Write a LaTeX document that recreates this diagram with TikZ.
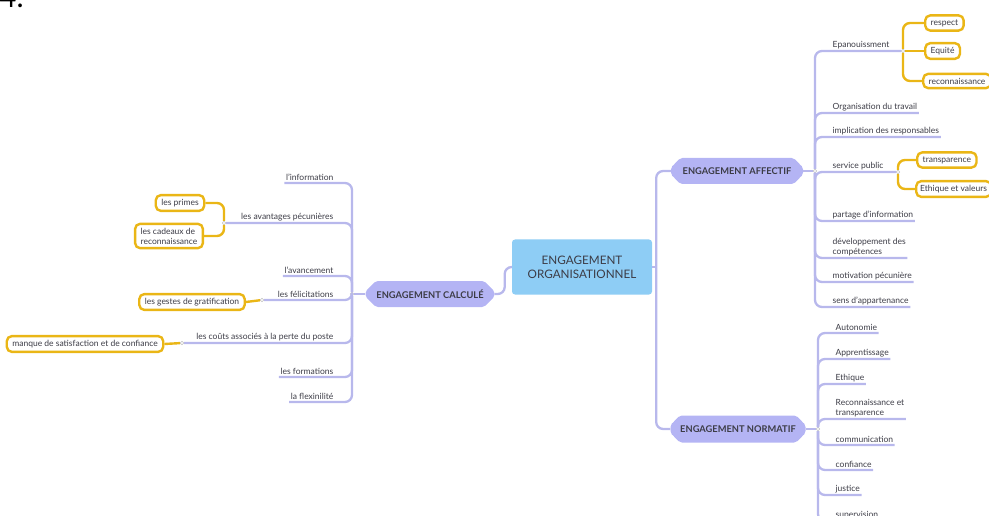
\documentclass[tikz,border=0pt]{standalone}
\usepackage{fontspec}
\setmainfont{Lato}
\usetikzlibrary{shapes.misc}
\definecolor{lav}{RGB}{184,184,236}
\definecolor{lavfill}{RGB}{180,180,244}
\definecolor{sky}{RGB}{142,205,245}
\definecolor{gold}{RGB}{234,182,22}
\definecolor{ink}{RGB}{60,60,70}
\tikzset{
  item/.style={inner xsep=1.5pt, inner ysep=2pt, text=ink, font=\fontsize{8.5}{10}\selectfont, align=left},
  topic/.style={chamfered rectangle, chamfered rectangle xsep=6pt, chamfered rectangle ysep=6pt, fill=lavfill, rounded corners=2pt, inner sep=0pt, minimum height=26pt, text=ink, font=\fontsize{9.3}{11}\selectfont\bfseries},
  leaf/.style={draw=gold, line width=2.4pt, fill=white, rounded corners=5pt, inner xsep=5.5pt, inner ysep=4pt, text=ink, font=\fontsize{8.5}{10}\selectfont, align=left},
  branch/.style={draw=lav, line width=2.3pt, rounded corners=7pt},
  twig/.style={draw=gold, line width=2.4pt, rounded corners=7pt},
  dot/.style={circle, fill=white, draw=gray!50, line width=0.5pt, minimum size=3.5pt, inner sep=0pt}
}
\begin{document}
\begin{tikzpicture}[x=1pt, y=-1pt]
  \useasboundingbox (0,0) rectangle (989,516);
  \node[anchor=base west, inner sep=0pt, font=\fontsize{30}{30}\selectfont] (num) at (-1,8) {4.};

  \node[fill=sky, rounded corners=3pt, minimum width=140pt, minimum height=55pt, text=ink, font=\fontsize{11.7}{14}\selectfont, align=center] (eo) at (582,267) {ENGAGEMENT\\ORGANISATIONNEL};
  \node[topic, minimum width=129pt] (calc) at (430,294) {ENGAGEMENT CALCULÉ};
  \node[topic, minimum width=132pt] (aff) at (737,171) {ENGAGEMENT AFFECTIF};
  \node[topic, minimum width=135pt, minimum height=27pt] (norm) at (738,429) {ENGAGEMENT NORMATIF};

  \node[dot] (lj) at (352,294) {};
  \node[dot] (ra) at (815,171) {};
  \node[dot] (rb) at (818,429) {};

  \draw[branch] (calc.east) -- ++(10,0) |- (eo.west);
  \draw[branch] (calc.west) -- (lj);
  \draw[branch, rounded corners=0pt] (eo.east) -- ++(4,0);
  \draw[branch] (aff.west) -| ([xshift=4pt]eo.east) |- (norm.west);
  \draw[branch] (aff.east) -- (ra);
  \draw[branch] (norm.east) -- (rb);

  \node[item, anchor=south east] (info) at (335,183) {l'information};
  \draw[branch] (info.south west) -- (info.south west -| lj) -- (lj);
  \node[item, anchor=south east] (avant) at (335,223) {les avantages pécunières};
  \node[dot] (avj) at (224,223) {};
  \draw[branch] (avj) -- (avj -| lj) -- (lj);
  \node[leaf] (primes) at (180,203) {les primes};
  \node[leaf] (cadeaux) at (169,236) {les cadeaux de\\reconnaissance};
  \draw[twig] (avj) |- (primes.east);
  \draw[twig] (avj) |- (cadeaux.east);
  \node[item, anchor=south east] (avanc) at (335,276) {l'avancement};
  \draw[branch] (avanc.south west) -- (avanc.south west -| lj) -- (lj);
  \node[item, anchor=south east] (felic) at (335,300) {les félicitations};
  \node[dot] (felj) at (262,300) {};
  \draw[branch] (felj) -- (felj -| lj) -- (lj);
  \node[leaf] (gestes) at (192,302) {les gestes de gratification};
  \draw[twig] (felj) -- (gestes.east);
  \node[item, anchor=south east] (couts) at (335,343) {les coûts associés à la perte du poste};
  \node[dot] (coutj) at (182,343) {};
  \draw[branch] (coutj) -- (coutj -| lj) -- (lj);
  \node[leaf] (manque) at (85,344) {manque de satisfaction et de confiance};
  \draw[twig] (coutj) -- (manque.east);
  \node[item, anchor=south east] (form) at (335,377) {les formations};
  \draw[branch] (form.south west) -- (form.south west -| lj) -- (lj);
  \node[item, anchor=south east] (flex) at (335,402) {la flexinilité};
  \draw[branch] (flex.south west) -- (flex.south west -| lj) -- (lj);

  \node[item, anchor=south west] (epan) at (831,51) {Epanouissment};
  \node[dot] (epj) at (903,51) {};
  \draw[branch] (ra) |- (epan.south west) -- (epj);
  \node[leaf, anchor=west] (respect) at (924,23) {respect};
  \node[leaf, anchor=west] (equite) at (924,51) {Equité};
  \node[leaf, anchor=west] (recon) at (922,81) {reconnaissance};
  \draw[twig] (epj) |- (respect.west);
  \draw[twig] (epj) -- (equite.west);
  \draw[twig] (epj) |- (recon.west);
  \node[item, anchor=south west] (orga) at (831,113) {Organisation du travail};
  \draw[branch] (ra) |- (orga.south west) -- (orga.south east);
  \node[item, anchor=south west] (impl) at (831,137) {implication des responsables};
  \draw[branch] (ra) |- (impl.south west) -- (impl.south east);
  \node[item, anchor=south west] (serv) at (831,172) {service public};
  \node[dot] (servj) at (898,172) {};
  \draw[branch] (ra) |- (serv.south west) -- (servj);
  \node[leaf, anchor=west] (transp) at (916,160) {transparence};
  \node[leaf, anchor=west, inner xsep=4pt] (ethv) at (915,189) {Ethique et valeurs};
  \draw[twig] (servj) |- (transp.west);
  \draw[twig] (servj) |- (ethv.west);
  \node[item, anchor=south west] (part) at (831,221) {partage d'information};
  \draw[branch] (ra) |- (part.south west) -- (part.south east);
  \node[item, anchor=south west] (dev) at (831,258) {développement des\\compétences};
  \draw[branch] (ra) |- (dev.south west) -- (dev.south east);
  \node[item, anchor=south west] (motiv) at (831,282) {motivation pécunière};
  \draw[branch] (ra) |- (motiv.south west) -- (motiv.south east);
  \node[item, anchor=south west] (sens) at (831,307) {sens d'appartenance};
  \draw[branch] (ra) |- (sens.south west) -- (sens.south east);

  \node[item, anchor=south west] (auto) at (834,333) {Autonomie};
  \draw[branch] (rb) |- (auto.south west) -- (auto.south east);
  \node[item, anchor=south west] (appr) at (834,359) {Apprentissage};
  \draw[branch] (rb) |- (appr.south west) -- (appr.south east);
  \node[item, anchor=south west] (ethi) at (834,384) {Ethique};
  \draw[branch] (rb) |- (ethi.south west) -- (ethi.south east);
  \node[item, anchor=south west] (rect) at (834,419) {Reconnaissance et\\transparence};
  \draw[branch] (rb) |- (rect.south west) -- (rect.south east);
  \node[item, anchor=south west] (comm) at (834,445) {communication};
  \draw[branch] (rb) |- (comm.south west) -- (comm.south east);
  \node[item, anchor=south west] (conf) at (834,470) {confiance};
  \draw[branch] (rb) |- (conf.south west) -- (conf.south east);
  \node[item, anchor=south west] (just) at (834,495) {justice};
  \draw[branch] (rb) |- (just.south west) -- (just.south east);
  \node[item, anchor=south west] (superv) at (834,521) {supervision};
  \draw[branch] (rb) |- (superv.south west) -- (superv.south east);
\end{tikzpicture}
\end{document}
